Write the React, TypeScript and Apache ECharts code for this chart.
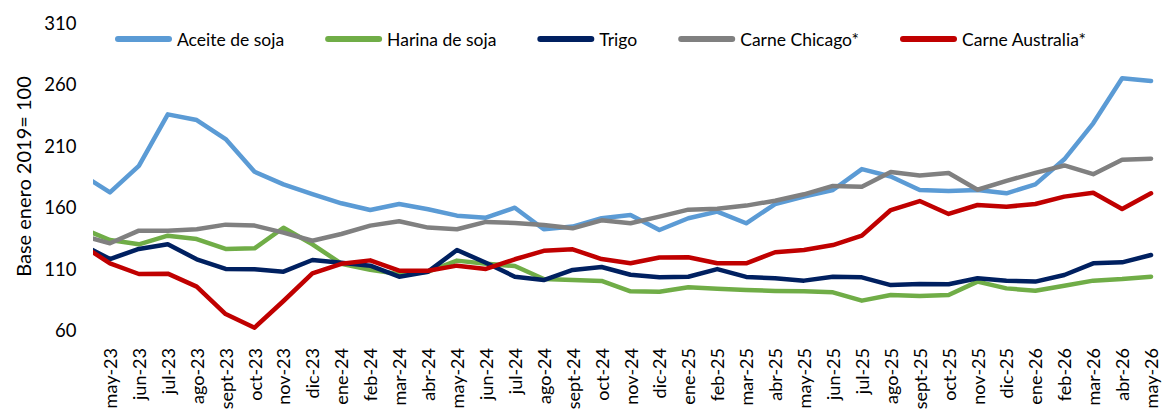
import React, { useEffect, useRef } from "react";
import * as echarts from "echarts";

// Month labels; the first one (abr-23) lies just outside the visible window
const months = [
  "abr-23", "may-23", "jun-23", "jul-23", "ago-23", "sept-23", "oct-23", "nov-23", "dic-23",
  "ene-24", "feb-24", "mar-24", "abr-24", "may-24", "jun-24", "jul-24", "ago-24", "sept-24", "oct-24", "nov-24", "dic-24",
  "ene-25", "feb-25", "mar-25", "abr-25", "may-25", "jun-25", "jul-25", "ago-25", "sept-25", "oct-25", "nov-25", "dic-25",
  "ene-26", "feb-26", "mar-26", "abr-26", "may-26",
];

const aceiteSoja = [
  187, 172, 193.6, 235.6, 231, 215.5, 188.9, 178.6, 170.7,
  163.2, 157.7, 162.6, 158.3, 153.1, 151.5, 159.6, 142, 144.2, 151, 153.6, 141.4,
  151, 156.4, 146.9, 162.6, 168.6, 174, 191, 185, 174, 173.2, 174, 171.3,
  178.6, 199, 228.3, 265, 262.8,
];
const harinaSoja = [
  143, 133.3, 129.8, 136.8, 134.1, 126, 126.5, 143.3, 129.8,
  114, 109, 105.5, 107.5, 116.5, 114, 112.1, 101.5, 100.7, 100, 91.5, 91.2,
  94.8, 93.5, 92.6, 91.8, 91.5, 90.7, 83.9, 88.5, 87.7, 88.5, 99.4, 93.9,
  92, 96.1, 100.2, 101.5, 103.4,
];
const trigo = [
  130, 117.8, 126, 129.8, 117.6, 109.7, 109.4, 107.5, 117,
  114.8, 112.4, 103.4, 107.5, 125.1, 114.8, 103.4, 100.7, 108.9, 111.3, 105, 102.9,
  103.4, 109.6, 103.2, 102.1, 100.2, 103.4, 102.9, 96.6, 97.5, 97.2, 102.1, 100.2,
  99.4, 104.8, 114.3, 115.1, 121.1,
];
const carneChicago = [
  137, 130.6, 140.9, 140.9, 142, 145.8, 145, 139.3, 132.7,
  138.2, 145, 148.6, 143.4, 142, 148, 147.2, 145.5, 142.8, 149.3, 146.9, 152.3,
  158, 158.8, 161.3, 165.3, 170.5, 177.3, 176.7, 188.7, 185.9, 187.8, 174.2, 181.4,
  188, 194, 186.9, 198.7, 199.5,
];
const carneAustralia = [
  129.5, 114.3, 105.6, 105.9, 95.3, 73, 61.9, 83.6, 106.2,
  113.9, 116.7, 108.3, 108.3, 112.4, 109.7, 117.6, 124.5, 125.7, 117.8, 114.3, 119.1,
  119.2, 114.3, 114.3, 123.3, 125.1, 129.2, 136.8, 157.7, 165, 154.5, 161.8, 160.4,
  162.6, 168.6, 171.8, 158.5, 171.3,
];

const seriesNames = ["Aceite de soja", "Harina de soja", "Trigo", "Carne Chicago*", "Carne Australia*"];
const seriesValues = [aceiteSoja, harinaSoja, trigo, carneChicago, carneAustralia];
const colors = ["#5B9BD5", "#70AD47", "#002060", "#808080", "#C00000"];

const yTicks = [60, 110, 160, 210, 260, 310];
const labelIdx = months.map((_, i) => i).slice(1);

const FONT = "Lato";

export default function App() {
  const ref = useRef<HTMLDivElement>(null);
  useEffect(() => {
    if (!ref.current) return;
    const chart = echarts.init(ref.current, null, { renderer: "svg" });
    chart.setOption({
      animation: false,
      backgroundColor: "#ffffff",
      color: colors,
      textStyle: { fontFamily: FONT, color: "#000" },
      grid: {
        left: 95.5,
        top: 23,
        width: 1070,
        height: 307,
        containLabel: false,
        outerBoundsMode: "none",
      },
      legend: {
        left: 110,
        top: 25,
        itemWidth: 57,
        itemHeight: 6,
        itemGap: 41,
        icon: "path://M3 0H54A3 3 0 0 1 54 6H3A3 3 0 0 1 3 0Z",
        textStyle: { fontFamily: FONT, fontSize: 17.5, color: "#000" },
        data: seriesNames,
      },
      xAxis: {
        type: "value",
        min: 0.5,
        max: 37.5,
        axisLine: { show: false },
        axisTick: { show: false },
        splitLine: { show: false },
        axisLabel: {
          customValues: labelIdx,
          rotate: 90,
          margin: 18,
          fontFamily: FONT,
          fontSize: 18,
          color: "#000",
          formatter: (v: number) => months[Math.round(v)] ?? "",
        },
      },
      yAxis: {
        type: "value",
        min: yTicks[0],
        max: yTicks[yTicks.length - 1],
        interval: 50,
        name: "Base enero 2019= 100",
        nameLocation: "middle",
        nameRotate: 90,
        nameGap: 62,
        nameTextStyle: { fontFamily: FONT, fontSize: 20, color: "#000" },
        axisLine: { show: false },
        axisTick: { show: false },
        splitLine: { show: false },
        axisLabel: { margin: 19, fontFamily: FONT, fontSize: 18.5, color: "#000" },
      },
      series: seriesNames.map((name, s) => ({
        name,
        type: "line",
        symbol: "none",
        clip: true,
        lineStyle: { width: 4.5, color: colors[s], cap: "round", join: "round" },
        itemStyle: { color: colors[s] },
        data: seriesValues[s].map((v, i) => [i, v]),
      })),
    });
    return () => chart.dispose();
  }, []);
  return <div ref={ref} style={{ position: "absolute", left: 0, top: 0, width: 1162, height: 412 }} />;
}
